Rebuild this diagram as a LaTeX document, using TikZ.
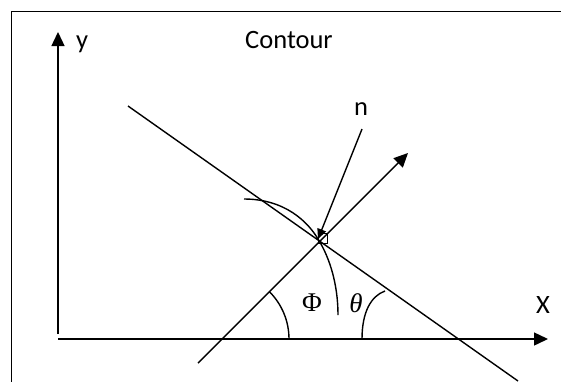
\documentclass[tikz,border=0pt]{standalone}
\usepackage{fontspec}
\setmainfont{Carlito}
\newfontfamily\tnr{Liberation Serif}
\usetikzlibrary{arrows.meta}
\begin{document}
\begin{tikzpicture}[x=1pt,y=-1pt,
  ln/.style={line width=1.4pt,line cap=butt},
  arr/.style={ln,-{Triangle[length=14pt,width=13pt]}},
  lbl/.style={font=\fontsize{26.5}{30}\selectfont,inner sep=0pt,anchor=base},
  gr/.style={font=\tnr\fontsize{27}{30}\selectfont,inner sep=0pt}]
\useasboundingbox (0,0) rectangle (561,381);
\clip (0,0) rectangle (561,381);
\fill[white] (0,0) rectangle (561,381);
% frame
\draw[line width=1.2pt] (11.5,11.5) rectangle (620,420);
% coordinates
\coordinate (O) at (58,339);
\coordinate (Ybot) at (58,334);
\coordinate (Ytop) at (58,32);
\coordinate (Xend) at (548,339);
\coordinate (P) at (318,239);
\coordinate (C1) at (128,106);
\coordinate (C2) at (518,381);
\coordinate (L1) at (198,363);
\coordinate (L2) at (408,153);
\coordinate (N1) at (362,129);
% axes
\draw[arr] (Ybot) -- (Ytop);
\draw[arr] (O) -- (Xend);
% lines
\draw[ln] (C1) -- (C2);
\draw[arr] (L1) -- (L2);
\draw[ln,-{Triangle[length=10pt,width=9pt]}] (N1) -- (P);
% right-angle marker
\draw[line width=0.8pt] (318,233) rectangle (327,243);
% contour curve
\draw[ln] (244,199) .. controls (285,199) and (308,222) .. (P)
          .. controls (330,258) and (338,285) .. (338,315);
% angle arcs
\draw[ln] (222,339) ++(-45:67) arc[start angle=-45,end angle=0,radius=67];
\draw[ln] (362,339) .. controls (362,312) and (371,296) .. (385,291);
% labels
\node[lbl] (ylab) at (82,48) {y};
\node[lbl] (title) at (289,48) {Contour};
\node[lbl] (nlab) at (361,115) {n};
\node[lbl] (xlab) at (543,313) {X};
\node[gr] (phi) at (312,303) {Φ};
\node[gr] (theta) at (356,303) {\itshape θ};
\end{tikzpicture}
\end{document}
